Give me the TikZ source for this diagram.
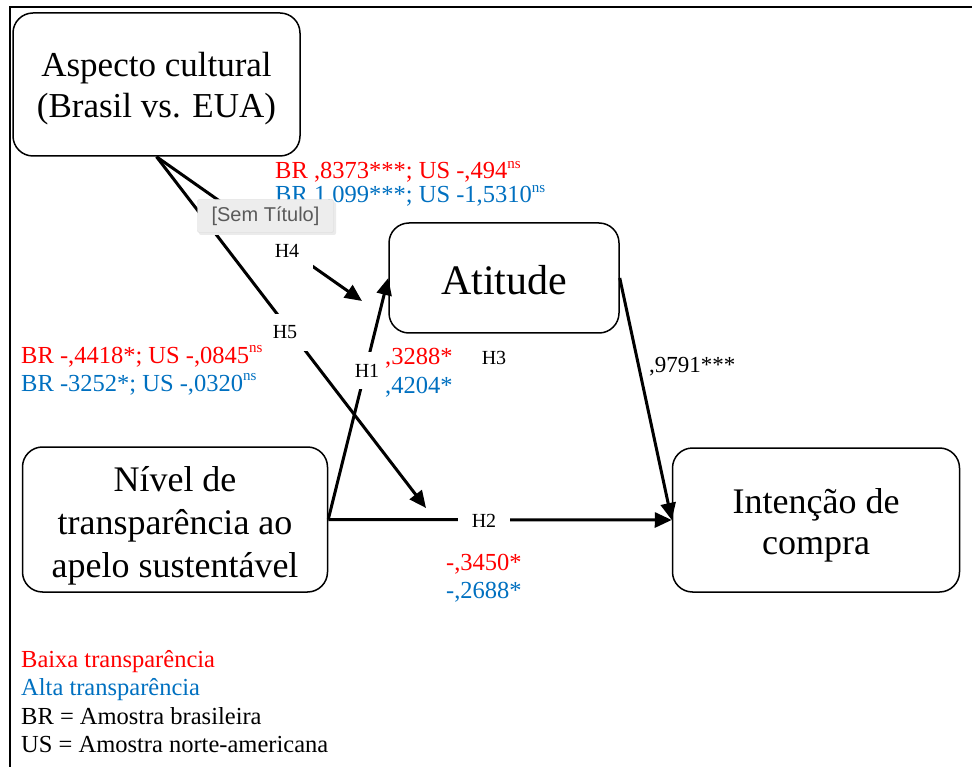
\documentclass[tikz,border=0pt]{standalone}
\usepackage{fontspec}
\setmainfont{Liberation Serif}
\newfontfamily\tipfont{Liberation Sans}
\usetikzlibrary{arrows.meta}
\definecolor{myred}{RGB}{255,0,0}
\definecolor{myblue}{RGB}{0,112,192}
\definecolor{tipgray}{RGB}{237,237,237}
\definecolor{tiptext}{RGB}{90,90,90}
\newcommand{\nsup}{\raisebox{0.42em}{\fontsize{15}{15}\selectfont ns}}
\tikzset{
  x=1pt, y=-1pt,
  box/.style={draw, line width=1.5pt, rounded corners=20pt, inner sep=0pt},
  boxtext/.style={align=center, inner sep=0pt},
  hlab/.style={fill=white, inner xsep=14pt, inner ysep=12pt, font=\fontsize{20}{23}\selectfont},
  arr/.style={line width=3pt, -{Triangle[length=17pt,width=15pt]}},
  val/.style={anchor=base west, inner sep=0pt, font=\fontsize{24.5}{28}\selectfont},
}
\begin{document}
\begin{tikzpicture}
\useasboundingbox (0,0) rectangle (972,767);
% frame
\draw[line width=2pt] (10,767) -- (10,7.5) -- (972,7.5);

% boxes
\node[box, minimum width=287pt, minimum height=143pt] (cult) at (156.5,84.5) {};
\node[boxtext, font=\fontsize{35}{41}\selectfont] (culttxt) at (156.5,89) {Aspecto cultural\\(Brasil vs. EUA)};
\node[box, minimum width=230pt, minimum height=110pt] (att) at (504,278) {};
\node[boxtext, font=\fontsize{42}{46}\selectfont] (atttxt) at (504,280) {Atitude};
\node[box, minimum width=305pt, minimum height=145pt] (niv) at (175,519.5) {};
\node[boxtext, font=\fontsize{36}{43}\selectfont] (nivtxt) at (175,526) {Nível de\\transparência ao\\apelo sustentável};
\node[box, minimum width=287pt, minimum height=144pt] (int) at (816,520) {};
\node[boxtext, font=\fontsize{36}{41}\selectfont] (inttxt) at (816,525) {Intenção de\\compra};

% free ends
\coordinate (h4end) at (362,301);
\coordinate (h5end) at (426,508);

% connectors
\draw[arr] (cult.south) -- (h4end);
\draw[arr] (cult.south) -- (h5end);
\draw[arr] (niv.east) -- (att.west);
\draw[arr] (niv.east) -- (int.west);
\draw[arr] (att.east) -- (int.west);

% hypothesis labels
\node[hlab] (h4) at (287,250.5) {H4};
\node[hlab] (h5) at (285,332.5) {H5};
\node[hlab] (h1) at (367,370.5) {H1};
\node[hlab] (h2) at (484,520.5) {H2};
\node[font=\fontsize{20}{23}\selectfont, inner sep=0pt] (h3) at (494,358) {H3};

% coefficients
\node[val, text=myblue] (c4b) at (275,203) {BR 1,099***; US -1,5310\nsup};
\node[val, text=myred] (c4r) at (275,179) {BR ,8373***; US -,494\nsup};
\node[val, text=myred] (c5r) at (21,363) {BR -,4418*; US -,0845\nsup};
\node[val, text=myblue] (c5b) at (21,391) {BR -3252*; US -,0320\nsup};
\node[val, text=myred] (c1r) at (385,364) {,3288*};
\node[val, text=myblue] (c1b) at (385,393) {,4204*};
\node[val, text=myred] (c2r) at (446,570) {-,3450*};
\node[val, text=myblue] (c2b) at (446,598) {-,2688*};
\node[val, font=\fontsize{23}{26}\selectfont] (c3) at (649,372) {,9791***};

% legend
\node[val, text=myred] (l1) at (21,667) {Baixa transparência};
\node[val, text=myblue] (l2) at (21,695) {Alta transparência};
\node[val] (l3) at (21,724) {BR = Amostra brasileira};
\node[val] (l4) at (21,752) {US = Amostra norte-americana};

% tooltip overlay
\fill[black!8, rounded corners=2pt] (199,202) rectangle (336,235);
\node[draw=black!15, fill=tipgray, rounded corners=2pt, minimum width=136pt, minimum height=33pt, inner sep=0pt,
      font=\tipfont\fontsize{20}{22}\selectfont, text=tiptext] (tip) at (265.5,216) {[Sem Título]};
\end{tikzpicture}
\end{document}
